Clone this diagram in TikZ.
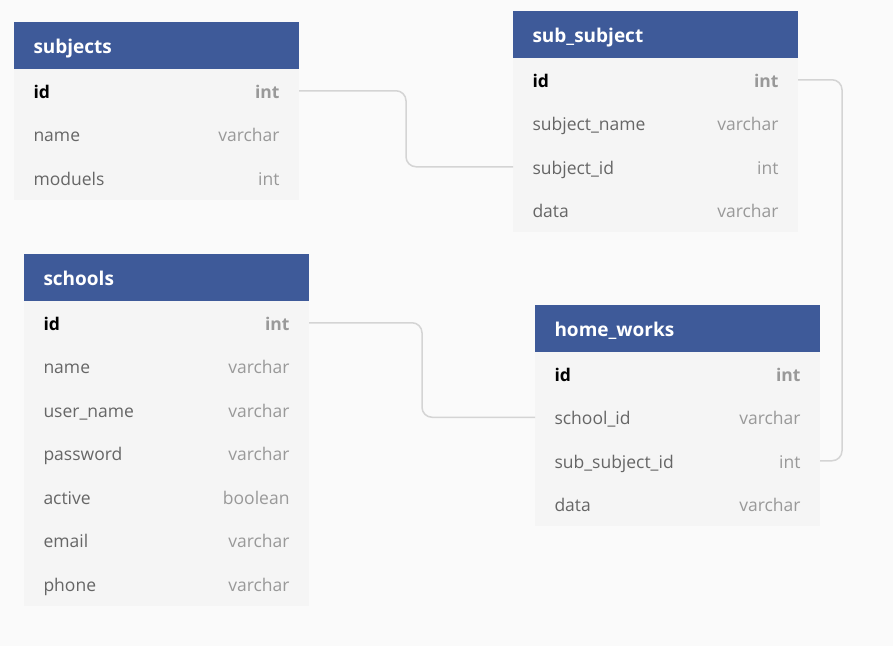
\documentclass[tikz,border=0pt]{standalone}
\usepackage{fontspec}
\setmainfont{Open Sans}
\usetikzlibrary{positioning, calc}

\definecolor{headblue}{HTML}{3E5A99}
\definecolor{pagebg}{HTML}{FAFAFA}
\definecolor{tablebg}{HTML}{F5F5F5}
\definecolor{fieldgray}{HTML}{666666}
\definecolor{typegray}{HTML}{999999}
\definecolor{linkgray}{HTML}{D4D4D4}

\begin{document}
\begin{tikzpicture}[x=1pt, y=-1pt, node distance=0pt]
        \tikzstyle{tablehead}=[anchor=north west, fill=headblue, text=white, font=\fontsize{19}{22}\selectfont\bfseries,
                               text width=246pt, inner xsep=19.5pt, inner ysep=0pt, outer sep=0pt,
                               text height=17pt, text depth=2pt, minimum height=47pt]
        \tikzstyle{tablerow}=[fill=tablebg, text=fieldgray, font=\fontsize{17.5}{21}\selectfont,
                              text width=246pt, inner xsep=19.5pt, inner ysep=0pt, outer sep=0pt,
                              text height=17pt, text depth=2pt, minimum height=43.5pt]
        \tikzstyle{keyrow}=[tablerow, text=black, font=\fontsize{17.5}{21}\selectfont\bfseries]
        \tikzstyle{link}=[draw=linkgray, line width=1.5pt, rounded corners=10pt]

        \useasboundingbox[fill=pagebg] (0,0) rectangle (893,646);

        % subjects
        \node[tablehead] (subjects) at (14,22) {subjects};
        \node[keyrow]   (subjects-id)      [below=of subjects]      {id\hfill\textcolor{typegray}{int}};
        \node[tablerow] (subjects-name)    [below=of subjects-id]   {name\hfill\textcolor{typegray}{varchar}};
        \node[tablerow] (subjects-moduels) [below=of subjects-name] {moduels\hfill\textcolor{typegray}{int}};

        % sub_subject
        \node[tablehead] (sub_subject) at (513,11) {sub\_subject};
        \node[keyrow]   (sub_subject-id)           [below=of sub_subject]              {id\hfill\textcolor{typegray}{int}};
        \node[tablerow] (sub_subject-subject_name) [below=of sub_subject-id]           {subject\_name\hfill\textcolor{typegray}{varchar}};
        \node[tablerow] (sub_subject-subject_id)   [below=of sub_subject-subject_name] {subject\_id\hfill\textcolor{typegray}{int}};
        \node[tablerow] (sub_subject-data)         [below=of sub_subject-subject_id]   {data\hfill\textcolor{typegray}{varchar}};

        % schools
        \node[tablehead] (schools) at (24,254) {schools};
        \node[keyrow]   (schools-id)        [below=of schools]           {id\hfill\textcolor{typegray}{int}};
        \node[tablerow] (schools-name)      [below=of schools-id]        {name\hfill\textcolor{typegray}{varchar}};
        \node[tablerow] (schools-user_name) [below=of schools-name]      {user\_name\hfill\textcolor{typegray}{varchar}};
        \node[tablerow] (schools-password)  [below=of schools-user_name] {password\hfill\textcolor{typegray}{varchar}};
        \node[tablerow] (schools-active)    [below=of schools-password]  {active\hfill\textcolor{typegray}{boolean}};
        \node[tablerow] (schools-email)     [below=of schools-active]    {email\hfill\textcolor{typegray}{varchar}};
        \node[tablerow] (schools-phone)     [below=of schools-email]     {phone\hfill\textcolor{typegray}{varchar}};

        % home_works
        \node[tablehead] (home_works) at (535,305) {home\_works};
        \node[keyrow]   (home_works-id)             [below=of home_works]           {id\hfill\textcolor{typegray}{int}};
        \node[tablerow] (home_works-school_id)      [below=of home_works-id]        {school\_id\hfill\textcolor{typegray}{varchar}};
        \node[tablerow] (home_works-sub_subject_id) [below=of home_works-school_id] {sub\_subject\_id\hfill\textcolor{typegray}{int}};
        \node[tablerow] (home_works-data)           [below=of home_works-sub_subject_id] {data\hfill\textcolor{typegray}{varchar}};

        % references
        \draw[link] (subjects-id.east) -| ($(subjects-id.east)!.5!(sub_subject-subject_id.west)$) |- (sub_subject-subject_id.west);
        \draw[link] (schools-id.east) -| ($(schools-id.east)!.5!(home_works-school_id.west)$) |- (home_works-school_id.west);
        \draw[link] (sub_subject-id.east) -- ++(44pt,0) |- (home_works-sub_subject_id.east);
\end{tikzpicture}
\end{document}
